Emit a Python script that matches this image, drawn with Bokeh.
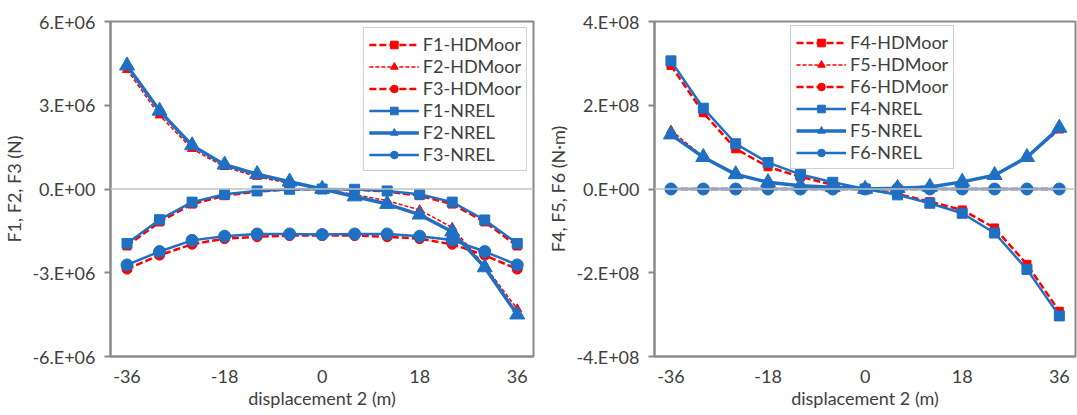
from bokeh.plotting import figure
from bokeh.layouts import row
from bokeh.models import Range1d, FixedTicker, Span
from bokeh.embed import file_html
from bokeh.resources import INLINE

# ---------------- data ----------------
disp = [-36, -30, -24, -18, -12, -6, 0, 6, 12, 18, 24, 30, 36]

F1_HDMoor = [-2.04e6, -1.18e6, -0.54e6, -0.24e6, -0.09e6, -0.02e6, 0.0, -0.02e6, -0.09e6, -0.24e6, -0.54e6, -1.18e6, -2.04e6]
F2_HDMoor = [4.27e6, 2.64e6, 1.44e6, 0.79e6, 0.44e6, 0.20e6, 0.0, -0.20e6, -0.42e6, -0.75e6, -1.38e6, -2.75e6, -4.30e6]
F3_HDMoor = [-2.87e6, -2.37e6, -1.98e6, -1.78e6, -1.71e6, -1.67e6, -1.67e6, -1.67e6, -1.71e6, -1.78e6, -1.98e6, -2.37e6, -2.87e6]
F1_NREL = [-1.95e6, -1.10e6, -0.47e6, -0.19e6, -0.07e6, -0.01e6, 0.0, -0.01e6, -0.07e6, -0.19e6, -0.47e6, -1.11e6, -1.95e6]
F2_NREL = [4.42e6, 2.80e6, 1.56e6, 0.87e6, 0.53e6, 0.26e6, 0.0, -0.27e6, -0.54e6, -0.92e6, -1.53e6, -2.81e6, -4.50e6]
F3_NREL = [-2.72e6, -2.24e6, -1.84e6, -1.69e6, -1.61e6, -1.61e6, -1.63e6, -1.61e6, -1.61e6, -1.69e6, -1.83e6, -2.24e6, -2.72e6]

F4_HDMoor = [2.95e8, 1.82e8, 0.96e8, 0.53e8, 0.29e8, 0.10e8, 0.0, -0.12e8, -0.30e8, -0.50e8, -0.93e8, -1.80e8, -2.92e8]
F5_HDMoor = [1.40e8, 0.77e8, 0.34e8, 0.15e8, 0.07e8, 0.03e8, 0.0, 0.03e8, 0.07e8, 0.15e8, 0.34e8, 0.77e8, 1.40e8]
F6_HDMoor = [0.0, 0.0, 0.0, 0.0, 0.0, 0.0, 0.0, 0.0, 0.0, 0.0, 0.0, 0.0, 0.0]
F4_NREL = [3.06e8, 1.93e8, 1.08e8, 0.63e8, 0.35e8, 0.16e8, 0.0, -0.14e8, -0.34e8, -0.58e8, -1.05e8, -1.92e8, -3.03e8]
F5_NREL = [1.30e8, 0.76e8, 0.35e8, 0.16e8, 0.08e8, 0.04e8, 0.0, 0.02e8, 0.05e8, 0.17e8, 0.33e8, 0.76e8, 1.46e8]
F6_NREL = [0.0, 0.0, 0.0, 0.0, 0.0, 0.0, 0.0, 0.0, 0.0, 0.0, 0.0, 0.0, 0.0]

x_ticks = [-36, -18, 0, 18, 36]
y_ticks_left = [-6e6, -3e6, 0, 3e6, 6e6]
y_labels_left = ["-6.E+06", "-3.E+06", "0.E+00", "3.E+06", "6.E+06"]
y_ticks_right = [-4e8, -2e8, 0, 2e8, 4e8]
y_labels_right = ["-4.E+08", "-2.E+08", "0.E+00", "2.E+08", "4.E+08"]

RED = "#ff0000"
BLUE = "#1f6fc2"
FONT = "Lato"
TXT = "#404040"
GRAY = "#8a8a8a"


def make_fig(width, border_left, border_right, yr, yticks, ylabels, ylabel):
    p = figure(width=width, height=415, output_backend="svg", toolbar_location=None,
               x_range=Range1d(-39.05, 39.0), y_range=Range1d(*yr),
               min_border_left=border_left, min_border_right=border_right,
               min_border_top=21, min_border_bottom=59)
    p.background_fill_color = "white"
    p.border_fill_color = "white"
    p.outline_line_color = GRAY
    p.outline_line_width = 2
    p.xgrid.visible = False
    p.ygrid.visible = False

    p.xaxis.ticker = FixedTicker(ticks=x_ticks)
    p.xaxis.major_label_overrides = {t: str(t) for t in x_ticks}
    p.xaxis.major_tick_out = 0
    p.xaxis.major_tick_in = 0
    p.xaxis.minor_tick_line_color = None
    p.xaxis.axis_line_color = GRAY
    p.xaxis.axis_line_width = 2
    p.xaxis.major_label_standoff = 13
    p.xaxis.axis_label = "displacement 2 (m)"
    p.xaxis.axis_label_standoff = 1

    p.yaxis.ticker = FixedTicker(ticks=yticks)
    p.yaxis.major_label_overrides = {t: l for t, l in zip(yticks, ylabels)}
    p.yaxis.major_tick_out = 6
    p.yaxis.major_tick_in = 0
    p.yaxis.major_tick_line_color = GRAY
    p.yaxis.major_tick_line_width = 2
    p.yaxis.minor_tick_line_color = None
    p.yaxis.axis_line_color = GRAY
    p.yaxis.axis_line_width = 2
    p.yaxis.major_label_standoff = 9
    p.yaxis.axis_label = ylabel
    p.yaxis.axis_label_standoff = 4

    for ax in (p.xaxis, p.yaxis):
        ax.major_label_text_font = FONT
        ax.major_label_text_font_size = "18px"
        ax.major_label_text_color = TXT
        ax.axis_label_text_font = FONT
        ax.axis_label_text_font_size = "18px"
        ax.axis_label_text_font_style = "normal"
        ax.axis_label_text_color = TXT

    p.add_layout(Span(location=0, dimension="width", line_color="#c0c0c0", line_width=1.5))
    return p


def add_series(p, names, hd, nrel):
    (n1, n2, n3) = names
    (h1, h2, h3) = hd
    (r1, r2, r3) = nrel
    # HDMoor (red dashed)
    p.line(disp, h1, line_color=RED, line_width=2.5, line_dash="7 3", legend_label=n1 + "-HDMoor")
    p.scatter(disp, h1, marker="square", size=8, color=RED, legend_label=n1 + "-HDMoor")
    p.line(disp, h2, line_color=RED, line_width=1.5, line_dash="4 2", legend_label=n2 + "-HDMoor")
    p.scatter(disp, h2, marker="triangle", size=9, color=RED, legend_label=n2 + "-HDMoor")
    p.line(disp, h3, line_color=RED, line_width=2.5, line_dash="7 3", legend_label=n3 + "-HDMoor")
    p.scatter(disp, h3, marker="circle", size=10, color=RED, legend_label=n3 + "-HDMoor")
    # NREL (blue solid)
    p.line(disp, r1, line_color=BLUE, line_width=2.5, legend_label=n1 + "-NREL")
    p.scatter(disp, r1, marker="square", size=10, color=BLUE, legend_label=n1 + "-NREL")
    p.line(disp, r2, line_color=BLUE, line_width=3.5, legend_label=n2 + "-NREL")
    p.scatter(disp, r2, marker="triangle", size=15, color=BLUE, legend_label=n2 + "-NREL")
    p.line(disp, r3, line_color=BLUE, line_width=2.5, legend_label=n3 + "-NREL")
    p.scatter(disp, r3, marker="circle", size=12, color=BLUE, legend_label=n3 + "-NREL")


def style_legend(p, location):
    lg = p.legend[0]
    lg.location = location
    lg.label_text_font = FONT
    lg.label_text_font_size = "18px"
    lg.label_text_color = TXT
    lg.glyph_width = 50
    lg.glyph_height = 19
    lg.label_height = 19
    lg.label_standoff = 4
    lg.spacing = 0
    lg.padding = 5
    lg.margin = 6
    lg.border_line_color = "#a0a0a0"
    lg.border_line_width = 1
    lg.background_fill_alpha = 1.0


p1 = make_fig(540, 108, 7, (-6e6, 6e6), y_ticks_left, y_labels_left, "F1, F2, F3 (N)")
add_series(p1, ("F1", "F2", "F3"), (F1_HDMoor, F2_HDMoor, F3_HDMoor), (F1_NREL, F2_NREL, F3_NREL))
style_legend(p1, "top_right")

p2 = make_fig(537, 114, 2, (-4e8, 4e8), y_ticks_right, y_labels_right, "F4, F5, F6 (N\u00b7m)")
add_series(p2, ("F4", "F5", "F6"), (F4_HDMoor, F5_HDMoor, F6_HDMoor), (F4_NREL, F5_NREL, F6_NREL))
style_legend(p2, (136, 187))

layout = row(p1, p2)
open("out.html", "w").write(file_html(layout, INLINE))
